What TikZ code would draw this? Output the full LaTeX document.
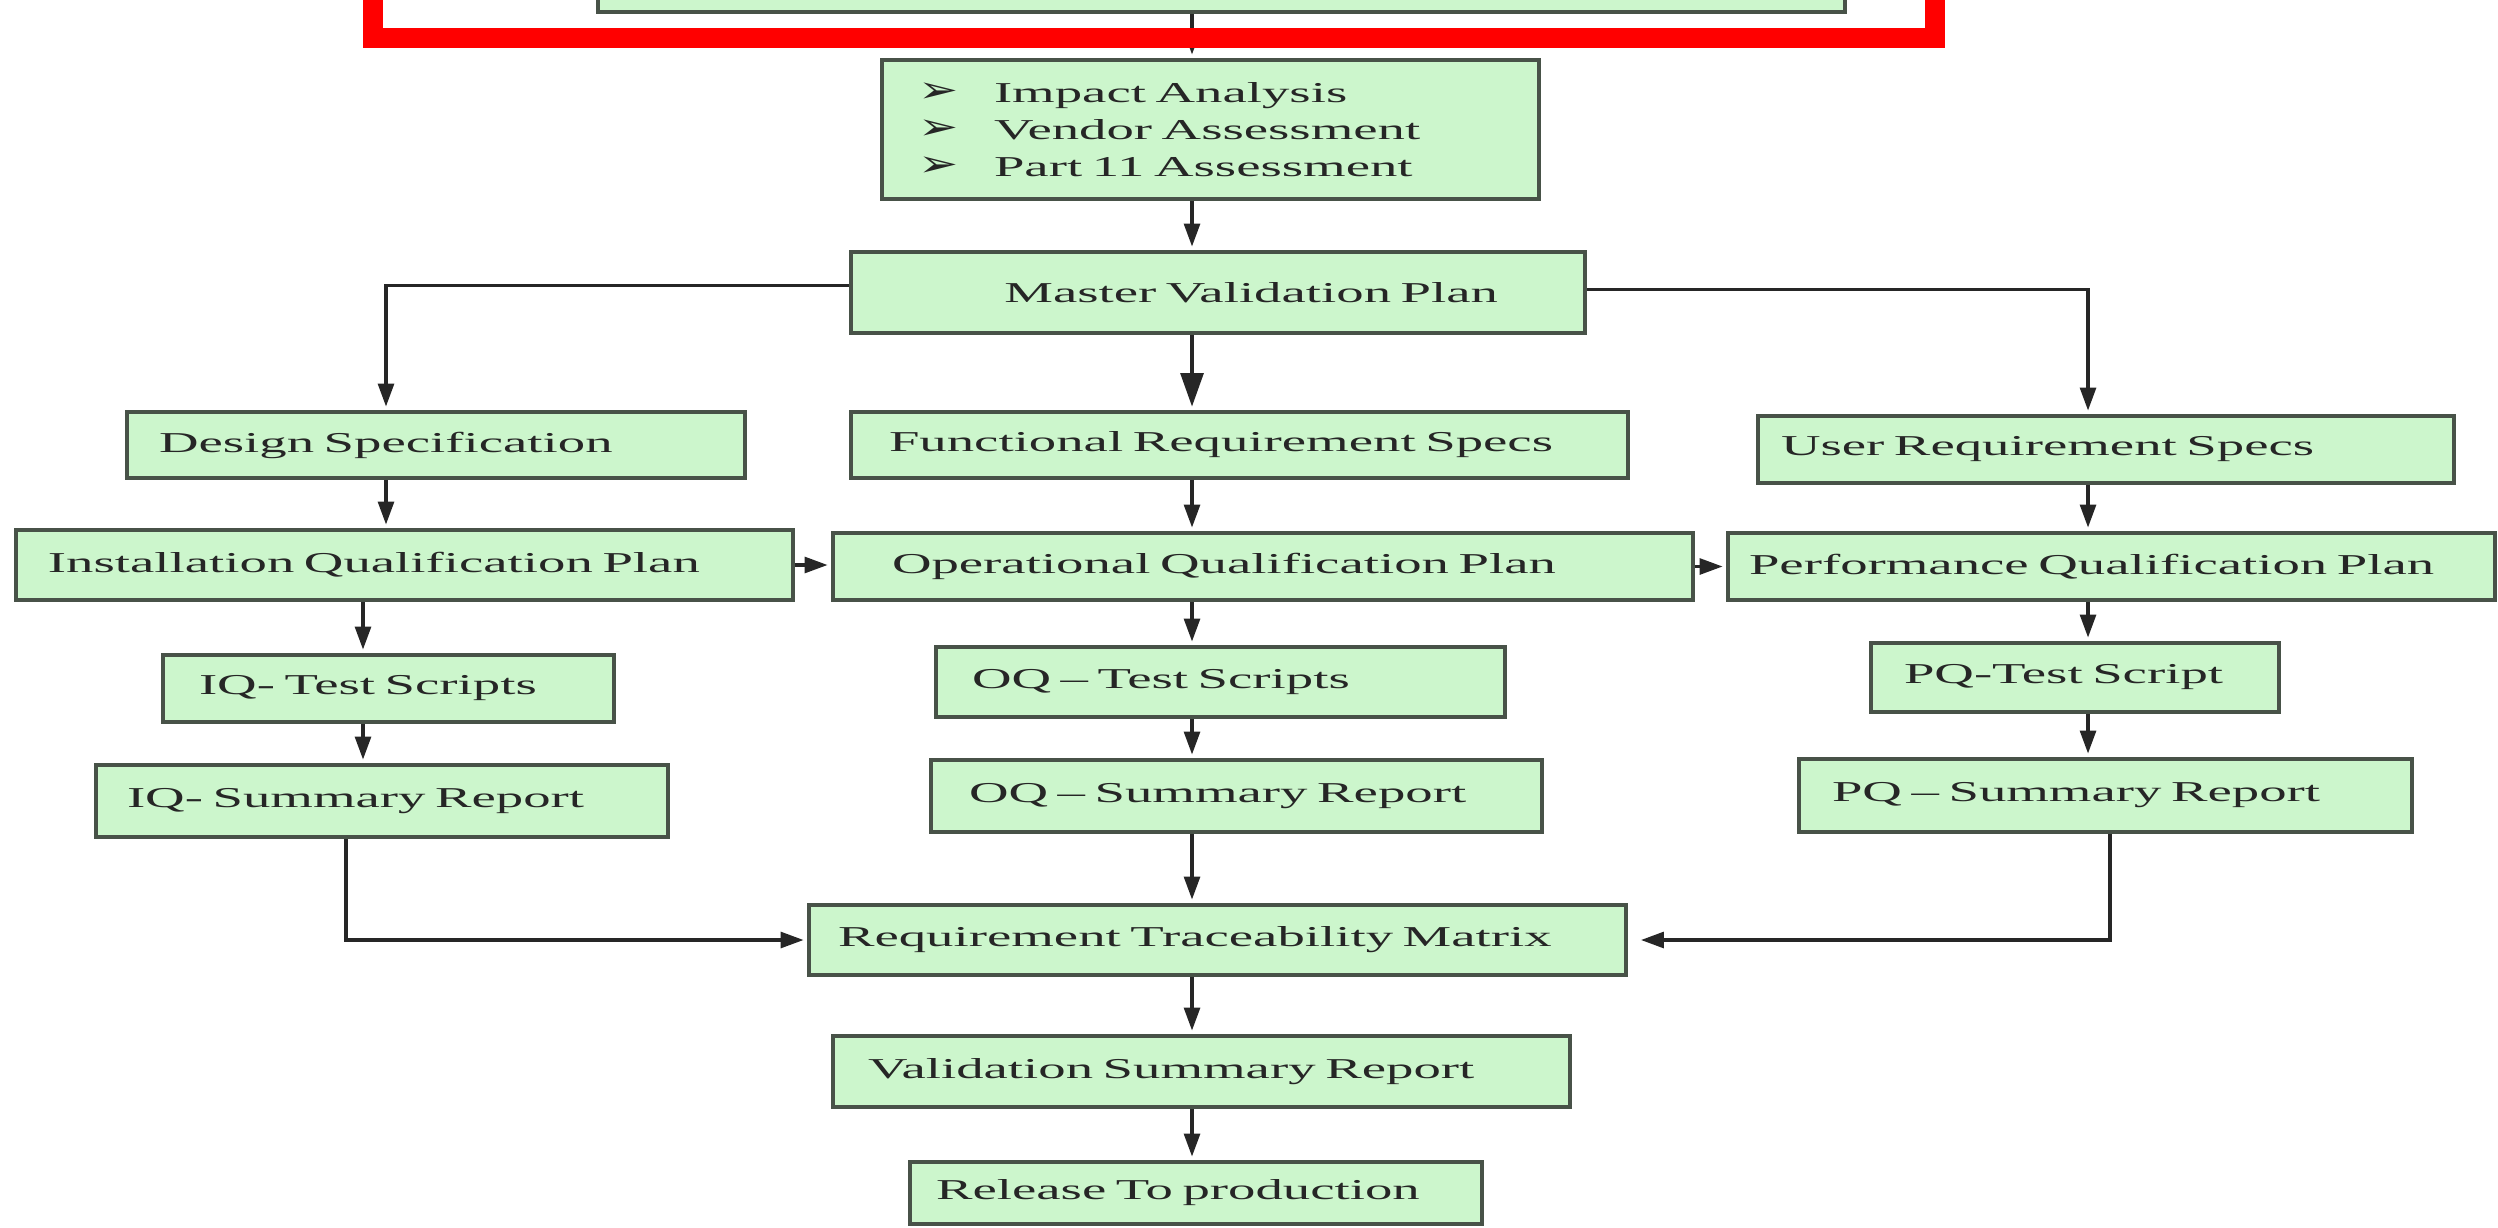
\documentclass[tikz,border=0pt]{standalone}
\usepackage{fontspec}
\setmainfont[FakeStretch=1.9]{Liberation Serif}
\newfontfamily\bulletfont[FakeStretch=1.3]{DejaVu Sans}
\usetikzlibrary{arrows.meta}
\definecolor{boxgreen}{RGB}{204,246,204}
\definecolor{boxline}{RGB}{72,82,72}
\newcommand{\bul}{\makebox[0.76cm][l]{\bulletfont\fontsize{10.5pt}{7pt}\selectfont ➢}}

\begin{document}
\begin{tikzpicture}[>=Latex, every node/.style={align=left},
    box/.style={draw=boxline, line width=1.1pt, fill=boxgreen, inner xsep=0.1cm, inner ysep=0pt,
      font=\fontsize{8.2pt}{10.5pt}\selectfont, text=black!85},
    arr/.style={draw=black!85, line width=0.9pt, -{Triangle[width=4.5pt,length=6.5pt]}, shorten >=1pt}]
    \fill[white] (0,0) rectangle (24.98,-12.27);
    \useasboundingbox (0,0) rectangle (24.98,-12.27);

    % columns of the connectors
    \coordinate (xc) at (11.92,0);
    \coordinate (xl) at (3.86,0);
    \coordinate (xl2) at (3.63,0);
    \coordinate (xl3) at (3.46,0);
    \coordinate (xr) at (20.88,0);
    \coordinate (xr2) at (21.10,0);

    \node[box,minimum width=12.47cm,minimum height=0.8cm] (top) at (12.215,0.28) {};
    \node[box,minimum width=6.57cm,minimum height=1.39cm,text width=5.85cm] (impact) at (12.105,-1.295)
      {\bul Impact Analysis\\ \bul Vendor Assessment\\ \bul Part 11 Assessment};
    \node[box,align=right,minimum width=7.34cm,minimum height=0.81cm,text width=5.6cm] (master) at (12.18,-2.925)
      {Master Validation Plan};

    \node[box,minimum width=6.18cm,minimum height=0.66cm,text width=5.54cm] (ds) at (4.36,-4.45)
      {Design Specification};
    \node[box,minimum width=7.77cm,minimum height=0.66cm,text width=7.01cm] (frs) at (12.395,-4.45)
      {Functional Requirement Specs};
    \node[box,minimum width=6.96cm,minimum height=0.67cm,text width=6.50cm] (urs) at (21.06,-4.495)
      {User Requirement Specs};

    \node[box,minimum width=7.77cm,minimum height=0.70cm,text width=7.13cm] (iqp) at (4.045,-5.65)
      {Installation Qualification Plan};
    \node[box,minimum width=8.60cm,minimum height=0.67cm,text width=7.42cm] (oqp) at (12.63,-5.665)
      {Operational Qualification Plan};
    \node[box,minimum width=7.67cm,minimum height=0.67cm,text width=7.25cm] (pqp) at (21.115,-5.665)
      {Performance Qualification Plan};

    \node[box,minimum width=4.51cm,minimum height=0.67cm,text width=3.79cm] (iqt) at (3.885,-6.885)
      {IQ- Test Scripts};
    \node[box,minimum width=5.69cm,minimum height=0.70cm,text width=4.97cm] (oqt) at (12.205,-6.82)
      {OQ -- Test Scripts};
    \node[box,minimum width=4.08cm,minimum height=0.69cm,text width=3.42cm] (pqt) at (20.75,-6.775)
      {PQ-Test Script};

    \node[box,minimum width=5.72cm,minimum height=0.72cm,text width=5.10cm] (iqs) at (3.82,-8.01)
      {IQ- Summary Report};
    \node[box,minimum width=6.11cm,minimum height=0.72cm,text width=5.35cm] (oqs) at (12.365,-7.96)
      {OQ -- Summary Report};
    \node[box,minimum width=6.13cm,minimum height=0.73cm,text width=5.47cm] (pqs) at (21.055,-7.955)
      {PQ -- Summary Report};

    \node[box,minimum width=8.17cm,minimum height=0.70cm,text width=7.59cm] (rtm) at (12.175,-9.40)
      {Requirement Traceability Matrix};
    \node[box,minimum width=7.37cm,minimum height=0.71cm,text width=6.67cm] (vsr) at (12.015,-10.715)
      {Validation Summary Report};
    \node[box,minimum width=5.72cm,minimum height=0.62cm,text width=5.2cm] (rel) at (11.96,-11.93)
      {Release To production};

    \draw[arr] (xc |- top.south) -- (xc |- impact.north);
    \draw[arr] (xc |- impact.south) -- (xc |- master.north);
    \draw[arr] ([yshift=0.07cm]master.west) -| (xl |- ds.north);
    \draw[arr,-{Triangle[width=6.5pt,length=9.5pt]}] (xc |- master.south) -- (xc |- frs.north);
    \draw[arr] ([yshift=0.03cm]master.east) -| (xr |- urs.north);
    \draw[arr] (xl |- ds.south) -- (xl |- iqp.north);
    \draw[arr] (xc |- frs.south) -- (xc |- oqp.north);
    \draw[arr] (xr |- urs.south) -- (xr |- pqp.north);
    \draw[arr] (iqp.east) -- (iqp.east -| oqp.west);
    \draw[arr] (oqp.east) -- (oqp.east -| pqp.west);
    \draw[arr] (xl2 |- iqp.south) -- (xl2 |- iqt.north);
    \draw[arr] (xc |- oqp.south) -- (xc |- oqt.north);
    \draw[arr] (xr |- pqp.south) -- (xr |- pqt.north);
    \draw[arr] (xl2 |- iqt.south) -- (xl2 |- iqs.north);
    \draw[arr] (xc |- oqt.south) -- (xc |- oqs.north);
    \draw[arr] (xr |- pqt.south) -- (xr |- pqs.north);
    \draw[arr] (xl3 |- iqs.south) |- (rtm.west);
    \draw[arr] (xc |- oqs.south) -- (xc |- rtm.north);
    \draw[arr,shorten >=0.13cm] (xr2 |- pqs.south) |- (rtm.east);
    \draw[arr] (xc |- rtm.south) -- (xc |- vsr.north);
    \draw[arr] (xc |- vsr.south) -- (xc |- rel.north);

    % highlight frame
    \draw[red,line width=0.2cm] (3.73,0.6) rectangle (19.35,-0.38);
\end{tikzpicture}
\end{document}
